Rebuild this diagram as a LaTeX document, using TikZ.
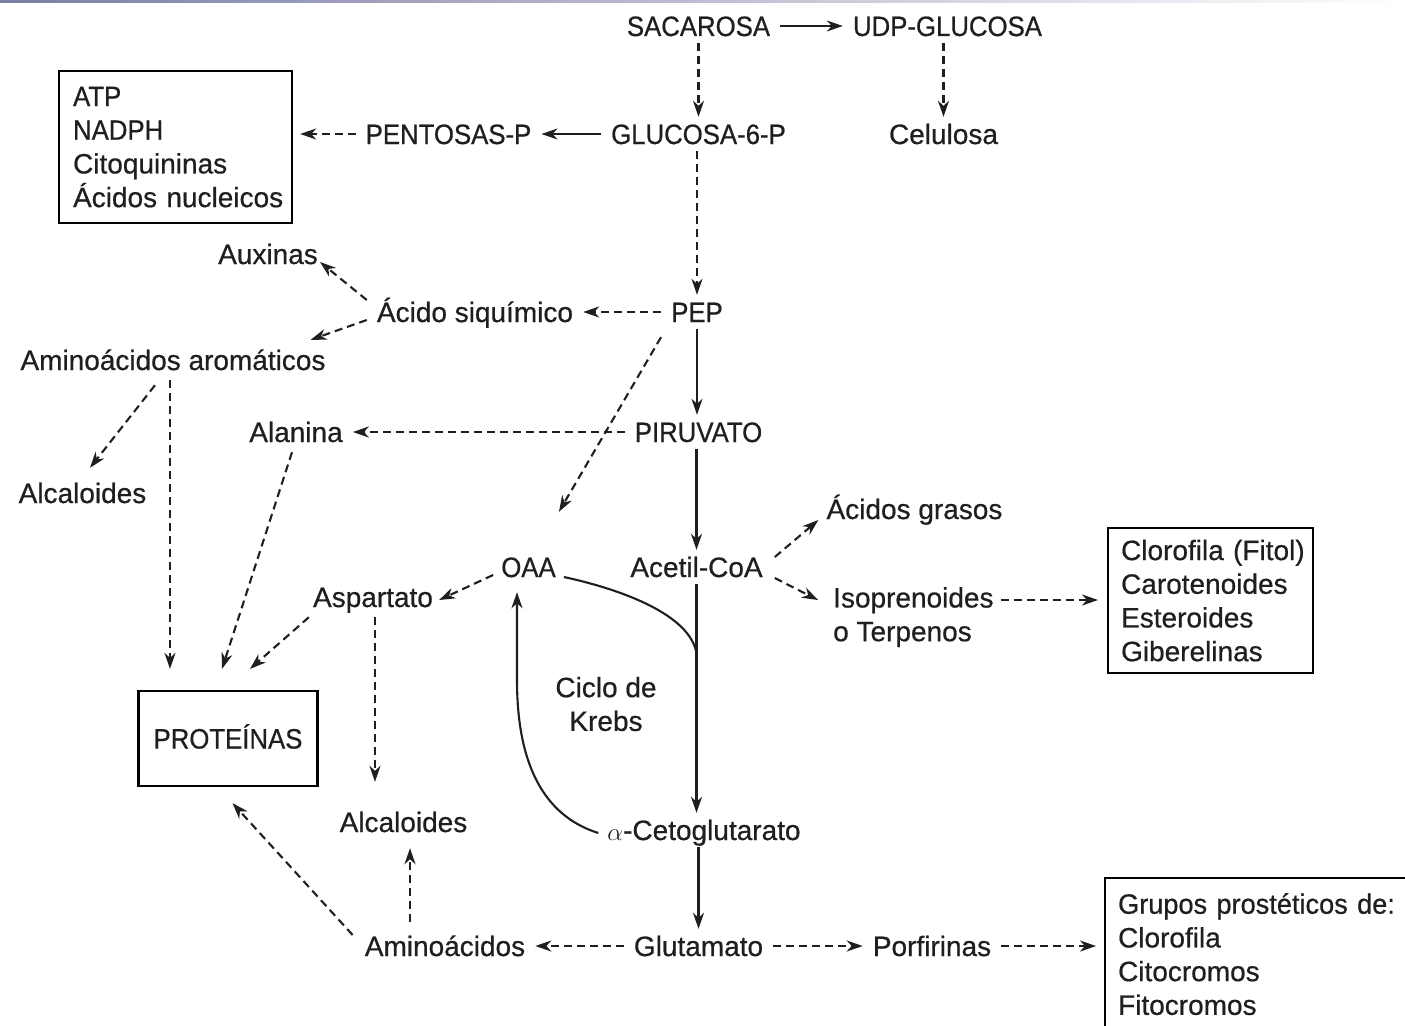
\documentclass[tikz,border=0pt]{standalone}
\usepackage{fontspec}
\setmainfont[FakeBold=0.6]{Liberation Sans}
\newfontfamily\capsf[FakeStretch=0.92,FakeBold=0.6]{Liberation Sans}
\newfontfamily\narrowf[FakeStretch=0.97,FakeBold=0.6]{Liberation Sans}
\usetikzlibrary{arrows.meta,calc}
\begin{document}
\begin{tikzpicture}[x=1pt,y=-1pt,
  every node/.style={font=\fontsize{28}{33.7}\selectfont, text={black!88}},
  lab/.style={inner xsep=10pt, inner ysep=7pt, text height=20pt, text depth=0pt},
  capl/.style={lab, font=\fontsize{28}{33.7}\selectfont\capsf},
  multi/.style={inner xsep=10pt, inner ysep=7pt},
  boxn/.style={draw, line width=2.2pt, align=left},
  sa/.style={line width=2.1pt, black!88, -{Stealth[length=16pt,width=11pt,inset=5pt]}},
  da/.style={sa, dash pattern=on 8pt off 5pt},
  sl/.style={line width=2.1pt, black!88}
]
\useasboundingbox (0,0) rectangle (1405,1025);
\clip (0,0) rectangle (1405,1025);
\fill[white] (0,0) rectangle (1405,1025);
\shade[left color={rgb,255:red,125;green,125;blue,165}, right color=white] (0,0) rectangle (1405,3);

% nodes
\node[capl] (sac) at (698.5,26) {SACAROSA};
\node[capl] (udp) at (947.5,26) {UDP-GLUCOSA};
\node[capl] (glu) at (698.5,134) {GLUCOSA-6-P};
\node[lab] (cel) at (943.5,134) {Celulosa};
\node[capl] (pen) at (448.5,134) {PENTOSAS-P};
\node[boxn, anchor=north west, minimum width=233pt, minimum height=152pt, inner xsep=14pt, text width=205pt] (b1) at (58,70)
  {{\capsf ATP}\\{\capsf NADPH}\\Citoquininas\\\mbox{Ácidos nucleicos}};
\node[lab] (aux) at (268,254) {Auxinas};
\node[lab] (sq) at (475,312) {Ácido siquímico};
\node[capl] (pep) at (697,312) {PEP};
\node[lab] (aar) at (173,360) {Aminoácidos aromáticos};
\node[lab] (ala) at (296,432) {Alanina};
\node[capl] (pir) at (698.5,432) {PIRUVATO};
\node[lab] (alc1) at (82.5,493) {Alcaloides};
\node[lab] (ag) at (914.5,509) {Ácidos grasos};
\node[capl] (oaa) at (528.5,567) {OAA};
\node[lab] (acet) at (696.5,567) {Acetil-CoA};
\node[lab] (asp) at (373,597) {Aspartato};
\node[multi, align=left, anchor=north west] (iso) at (823,580) {Isoprenoides\\o Terpenos};
\node[boxn, anchor=north west, minimum width=205pt, minimum height=145pt, inner xsep=13pt, text width=179pt] (b2) at (1107,527)
  {\mbox{Clorofila (Fitol)}\\Carotenoides\\Esteroides\\Giberelinas};
\node[align=center] (krebs) at (606,704) {Ciclo de\\Krebs};
\node[capl, draw, line width=2.2pt, minimum width=179pt, minimum height=95pt] (prot) at (228,738.5) {PROTEÍNAS};
\node[lab] (alc2) at (403.5,822) {Alcaloides};
\node[lab] (ceto) at (704,830) {$\alpha$-Cetoglutarato};
\node[lab] (amin) at (445,946) {Aminoácidos};
\node[lab] (glut) at (698.5,946) {Glutamato};
\node[lab] (porf) at (932,946) {Porfirinas};
\node[boxn, anchor=north west, minimum width=326pt, minimum height=152pt, inner xsep=13pt, text width=300pt] (b3) at (1104,877)
  {{\narrowf Grupos prostéticos de:}\\Clorofila\\Citocromos\\Fitocromos};

% connectors
\draw[sa] (sac.east) -- (udp.west);
\draw[da] (sac.south) -- (glu.north);
\draw[da] (cel.north |- udp.south) -- (cel.north);
\draw[sa] (glu.west) -- (pen.east);
\draw[da] (pen.west) -- ($(b1.east |- pen.west)+(7,0)$);
\draw[da] (pep.north |- glu.south) -- (pep.north);
\draw[da] (pep.west) -- (sq.east);
\draw[da] ($(sq.west)+(0,-12)$) -- ($(aux.east)+(-8,8)$);
\draw[da] ($(sq.west)+(0,8)$) -- ($(aar.north east)+(-25,-3)$);
\draw[sa] (pep.south) -- (pep.south |- pir.north);
\draw[da] ($(pep.south west)+(0,8)$) -- ($(oaa.north east)+(-7,-38)$);
\draw[da] (pir.west) -- (ala.east);
\draw[sa] (acet.north |- pir.south) -- (acet.north);
\draw[da] ($(aar.south)+(-18,8)$) -- ($(alc1.north)+(7.5,-8)$);
\draw[da] ($(aar.south)+(-3,3)$) -- ($(prot.north)+(-58,-21)$);
\draw[da] ($(ala.south)+(-4,3)$) -- ($(prot.north)+(-6,-21)$);
\draw[da] ($(asp.south west)+(6,3)$) -- ($(prot.north)+(22,-21)$);
\draw[da] ($(oaa.west)+(2,8)$) -- ($(asp.east)+(-4,3)$);
\draw[da] ($(asp.south)+(2,3)$) -- ($(alc2.north)+(-28.5,-23)$);
\draw[da] ($(acet.east)+(2,-10)$) -- ($(ag.west)+(2,11)$);
\draw[da] ($(acet.east)+(2,11)$) -- ($(iso.north west)+(-5,20)$);
\draw[da] ($(iso.north east)+(-3,20)$) -- ($(b2.west |- iso.north east)+(-9,20)$);
\draw[sa] (acet.south) -- (acet.south |- ceto.north);
\draw[sl] ($(oaa.east)+(-2,10)$) .. controls +(60,13) and +(-6.5,-38) .. ($(acet.south)+(0,69)$);
\draw[sa] ($(ceto.west)+(1,3)$) .. controls +(-57,-18) and +(0,80) .. ($(oaa.south)+(-11.5,96)$) -- ($(oaa.south)+(-11.5,8)$);
\draw[sa] (glut.north |- ceto.south) -- (glut.north);
\draw[da] (glut.west) -- (amin.east);
\draw[da] (glut.east) -- (porf.west);
\draw[da] (porf.east) -- ($(b3.west |- porf.east)+(-8,0)$);
\draw[da] ($(amin.north)+(-35,-7)$) -- ($(alc2.south)+(6.5,9)$);
\draw[da] ($(amin.west)+(-2,-11)$) -- ($(prot.south)+(4.5,16)$);
\end{tikzpicture}
\end{document}
